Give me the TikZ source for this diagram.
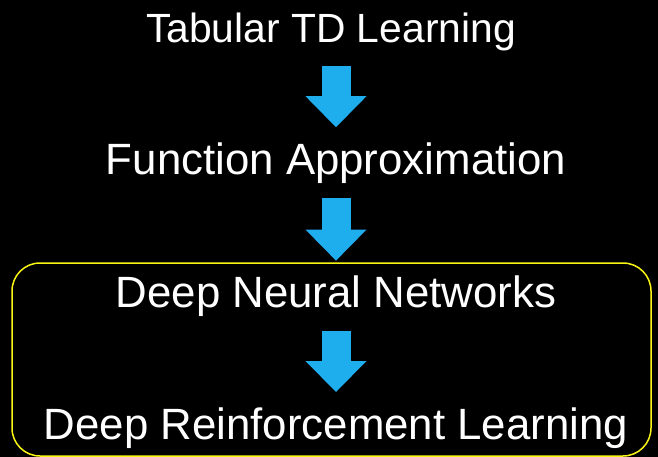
\documentclass[tikz,border=0pt]{standalone}
\usepackage{fontspec}
\setmainfont{Liberation Sans}
\usepackage{tikz}
\usetikzlibrary{positioning,arrows.meta}

\definecolor{arrowblue}{RGB}{30,174,238}
\definecolor{boxyellow}{RGB}{250,246,20}

\begin{document}
\begin{tikzpicture}[x=1pt,y=1pt,
	stage/.style={text=white,inner sep=0pt,text height=31pt,text depth=9pt,
		font=\fontsize{43.8}{44}\selectfont},
	flow/.style={arrowblue,line width=29pt,shorten <=14pt,shorten >=16pt,
		-{Triangle[width=61pt,length=31pt,line width=0pt]}},
	focusbox/.style={boxyellow,line width=1.5pt,rounded corners=28pt}]
	\useasboundingbox (0,0) rectangle (658,-457);
	\fill[black] (0,0) rectangle (658,-457);

	\node (tabular)[stage,anchor=base,font=\fontsize{40.8}{41}\selectfont] at (331,-43) {Tabular TD Learning};
	\node (funcapprox)[stage,below=91pt of tabular,xshift=5pt] {Function Approximation};
	\node (neural)[stage,below=93pt of funcapprox] {Deep Neural Networks};
	\node (deeprl)[stage,below=91pt of neural] {Deep Reinforcement Learning};

	% draw the connections
	\draw[flow] (tabular.south -| funcapprox) -- (funcapprox);
	\draw[flow] (funcapprox)--(neural);
	\draw[flow] (neural)--(deeprl);

	\draw[focusbox] (12,-263) rectangle (651,-456);
\end{tikzpicture}
\end{document}
